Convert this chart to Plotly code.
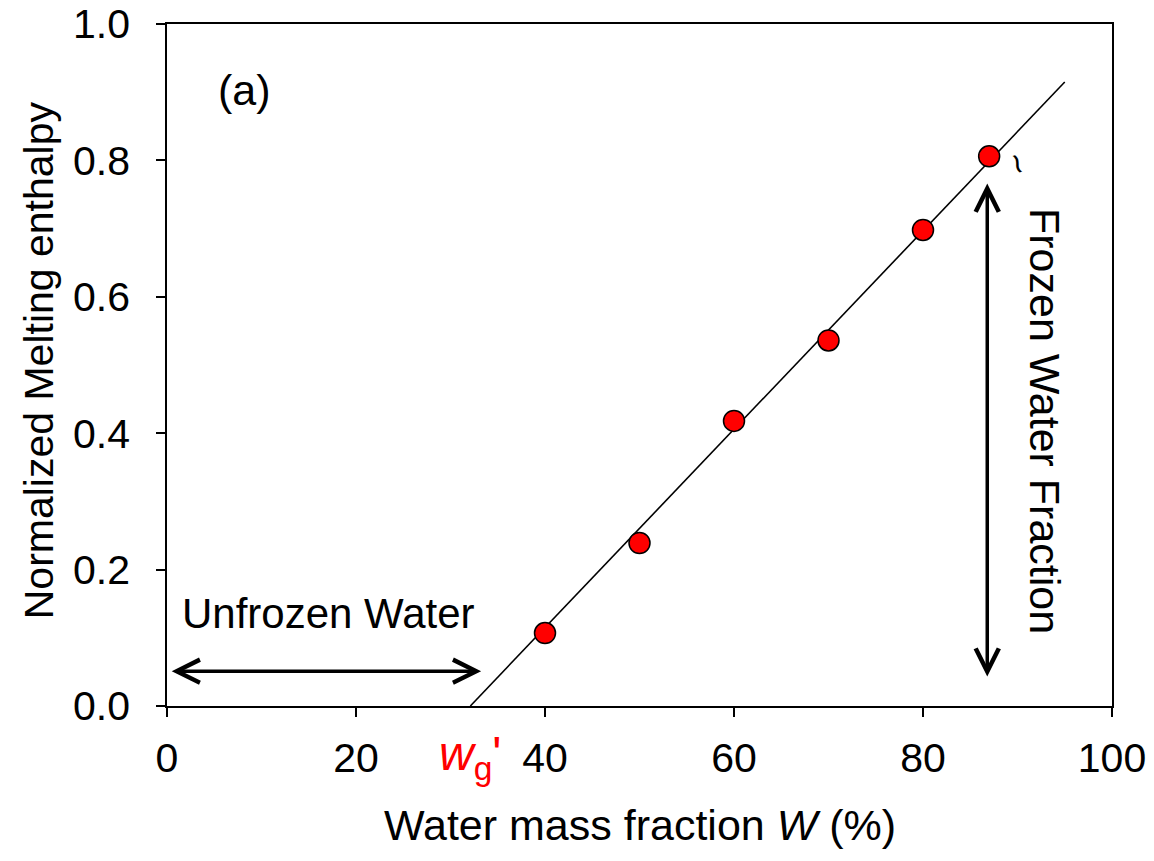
import plotly.graph_objects as go

# Data
water_fraction = [40, 50, 60, 70, 80, 87]
melting_enthalpy = [0.107, 0.239, 0.418, 0.536, 0.698, 0.806]
fit_x = [32.1, 95.0]
fit_y = [0.0, 0.915]
x_ticks = [0, 20, 40, 60, 80, 100]
y_ticks = [0.0, 0.2, 0.4, 0.6, 0.8, 1.0]
wg_prime = 32.1
unfrozen_span = [0.5, 33.4]
frozen_span = [0.041, 0.766]

FONT = "Liberation Sans, Arial, sans-serif"
FS = 42
RED = "#ff0000"

fig = go.Figure()
fig.add_trace(go.Scatter(x=fit_x, y=fit_y, mode="lines",
                         line=dict(color="black", width=1.6), showlegend=False))
fig.add_trace(go.Scatter(x=water_fraction, y=melting_enthalpy, mode="markers",
                         marker=dict(color=RED, size=21,
                                     line=dict(color="black", width=1.5)),
                         showlegend=False))

arrow_style = dict(text="", showarrow=True, arrowhead=5, startarrowhead=5, arrowside="end+start",
                   arrowwidth=3.5, arrowsize=1.3, startarrowsize=1.3, arrowcolor="black",
                   standoff=0, startstandoff=0, xref="x", yref="y", axref="x", ayref="y")
ann = []
ann.append(dict(x=unfrozen_span[0], y=0.051, ax=unfrozen_span[1], ay=0.051, **arrow_style))
ann.append(dict(x=86.8, y=frozen_span[1], ax=86.8, ay=frozen_span[0], **arrow_style))
ann.append(dict(x=17.1, y=0.136, xref="x", yref="y", text="Unfrozen Water", showarrow=False,
                font=dict(family=FONT, size=FS, color="black")))
ann.append(dict(x=92.9, y=0.418, xref="x", yref="y", text="Frozen Water Fraction", showarrow=False,
                textangle=90, font=dict(family=FONT, size=43, color="black")))
ann.append(dict(x=8.25, y=0.903, xref="x", yref="y", text="(a)", showarrow=False,
                font=dict(family=FONT, size=43, color="black")))
ann.append(dict(x=90.0, y=0.795, xref="x", yref="y", text="~", showarrow=False, textangle=70,
                font=dict(family=FONT, size=36, color="black")))
# w_g' label below the axis at the intercept
ann.append(dict(x=wg_prime, y=-0.075, xref="x", yref="paper", yanchor="middle",
                text="<i>w</i><sub style=\"font-size:40px\">g</sub>'",
                showarrow=False, font=dict(family=FONT, size=48, color=RED)))
# axis titles
ann.append(dict(x=50, y=-0.175, xref="x", yref="paper", yanchor="middle",
                text="Water mass fraction <i>W</i> (%)", showarrow=False,
                font=dict(family=FONT, size=43, color="black")))
ann.append(dict(x=-0.1354, y=0.507, xref="paper", yref="paper", xanchor="center", yanchor="middle",
                text="Normalized Melting enthalpy", showarrow=False, textangle=-90,
                font=dict(family=FONT, size=41, color="black")))
fig.update_layout(annotations=ann)

fig.update_layout(
    width=1138, height=845,
    margin=dict(l=159, r=34, t=16, b=147, autoexpand=False),
    plot_bgcolor="white", paper_bgcolor="white",
    font=dict(family=FONT, color="black"),
)
axis_common = dict(showgrid=False, zeroline=False, showline=True, linecolor="black", linewidth=1.5,
                   mirror=True, ticks="outside", ticklen=9, tickwidth=1.5, tickcolor="black",
                   tickfont=dict(family=FONT, size=41), automargin=False, ticklabeloverflow="allow")
fig.update_xaxes(range=[0, 100], tickvals=x_ticks, ticktext=[str(v) for v in x_ticks],
                 ticklabelstandoff=6, **axis_common)
fig.update_yaxes(range=[0, 1.0], tickvals=y_ticks, ticktext=[f"{v:.1f}" for v in y_ticks],
                 ticklabelstandoff=18, **axis_common)

fig.write_html("out.html")
